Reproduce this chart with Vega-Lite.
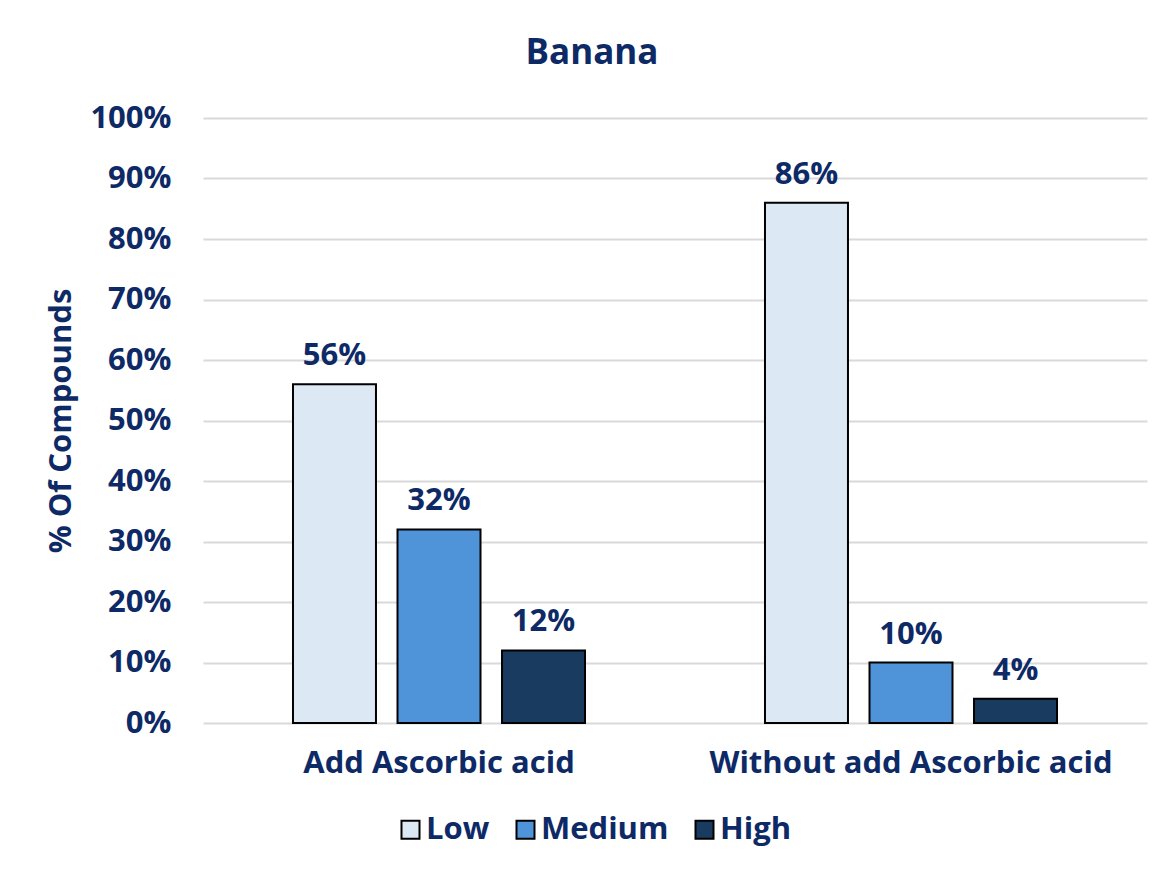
{
  "$schema": "https://vega.github.io/schema/vega-lite/v6.json",
  "autosize": {"type": "none"},
  "padding": {"left": 203, "top": 118, "right": 17, "bottom": 147},
  "width": 944,
  "height": 605,
  "background": "white",
  "title": {
    "text": "Banana",
    "anchor": "middle",
    "dx": -83,
    "offset": 3,
    "baseline": "alphabetic",
    "font": "Open Sans",
    "fontSize": 35,
    "fontWeight": "bold",
    "color": "#0E2A66"
  },
  "data": {
    "values": [
      {"group": "Add Ascorbic acid", "level": "Low", "pct": 0.56},
      {"group": "Add Ascorbic acid", "level": "Medium", "pct": 0.32},
      {"group": "Add Ascorbic acid", "level": "High", "pct": 0.12},
      {"group": "Without add Ascorbic acid", "level": "Low", "pct": 0.86},
      {"group": "Without add Ascorbic acid", "level": "Medium", "pct": 0.10},
      {"group": "Without add Ascorbic acid", "level": "High", "pct": 0.04}
    ]
  },
  "encoding": {
    "x": {
      "field": "group",
      "type": "nominal",
      "sort": null,
      "scale": {"paddingInner": 0, "paddingOuter": 0},
      "axis": {
        "title": null,
        "labelAngle": 0,
        "domain": false,
        "ticks": false,
        "labelLimit": 0,
        "labelPadding": 25,
        "labelFont": "Open Sans",
        "labelFontSize": 31,
        "labelFontWeight": "bold",
        "labelColor": "#0E2A66"
      }
    },
    "xOffset": {
      "field": "level",
      "type": "nominal",
      "sort": ["Low", "Medium", "High"],
      "scale": {"paddingInner": 0.206, "paddingOuter": 0.861}
    },
    "y": {
      "field": "pct",
      "type": "quantitative",
      "scale": {"domain": [0, 1]},
      "axis": {
        "title": "% Of Compounds",
        "values": [0, 0.1, 0.2, 0.3, 0.4, 0.5, 0.6, 0.7, 0.8, 0.9, 1],
        "format": ".0%",
        "domain": false,
        "ticks": false,
        "grid": true,
        "gridColor": "#D9D9D9",
        "gridWidth": 2,
        "labelPadding": 32,
        "labelFont": "Open Sans",
        "labelFontSize": 31,
        "labelFontWeight": "bold",
        "labelColor": "#0E2A66",
        "titleFont": "Open Sans",
        "titleFontSize": 31,
        "titleFontWeight": "bold",
        "titleColor": "#0E2A66",
        "titlePadding": 12
      }
    }
  },
  "layer": [
    {
      "mark": {"type": "bar", "stroke": "black", "strokeWidth": 2},
      "encoding": {
        "color": {
          "field": "level",
          "type": "nominal",
          "sort": ["Low", "Medium", "High"],
          "scale": {
            "domain": ["Low", "Medium", "High"],
            "range": ["#DDE8F5", "#4F94D9", "#1A3B60"]
          },
          "legend": {
            "title": null,
            "orient": "none",
            "direction": "horizontal",
            "legendX": 192,
            "legendY": 696,
            "symbolType": "square",
            "symbolSize": 324,
            "symbolStrokeColor": "black",
            "symbolStrokeWidth": 2,
            "symbolOpacity": 1,
            "labelOffset": 0,
            "columnPadding": 20,
            "labelFont": "Open Sans",
            "labelFontSize": 31,
            "labelFontWeight": "bold",
            "labelColor": "#0E2A66"
          }
        }
      }
    },
    {
      "mark": {
        "type": "text",
        "baseline": "alphabetic",
        "dy": -19,
        "font": "Open Sans",
        "fontSize": 31,
        "fontWeight": "bold",
        "color": "#0E2A66"
      },
      "encoding": {
        "text": {"field": "pct", "type": "quantitative", "format": ".0%"}
      }
    }
  ],
  "config": {"view": {"stroke": null}}
}
